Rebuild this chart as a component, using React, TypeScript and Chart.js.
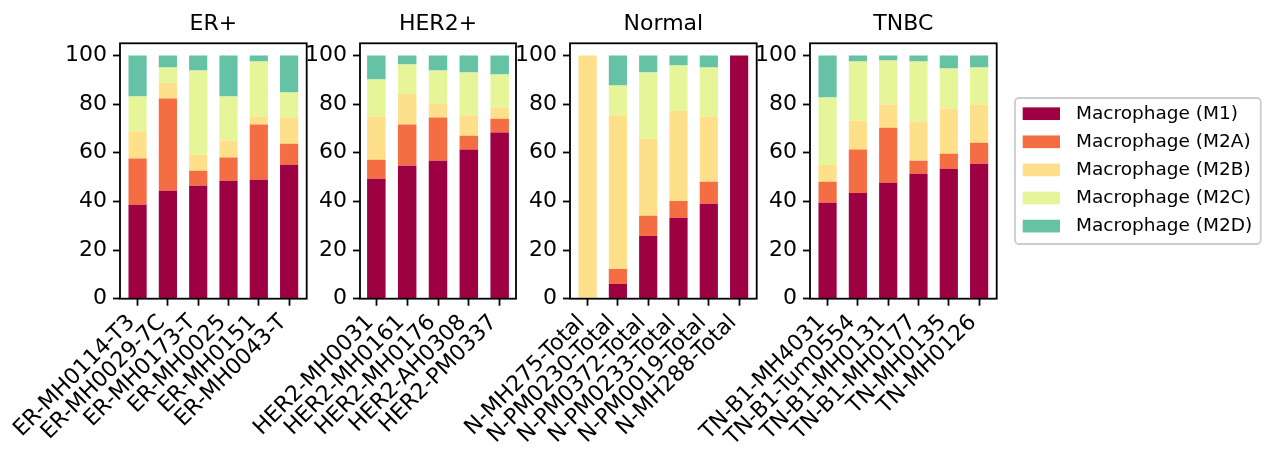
import React, { useEffect, useRef } from "react";
import { Chart, registerables } from "chart.js";

Chart.register(...registerables);
Chart.defaults.font.family = "'DejaVu Sans', sans-serif";

// ---------- data ----------
const SERIES_NAMES = [
  "Macrophage (M1)",
  "Macrophage (M2A)",
  "Macrophage (M2B)",
  "Macrophage (M2C)",
  "Macrophage (M2D)",
];
const SERIES_COLORS = ["#9e0142", "#f46d43", "#fee08b", "#e6f598", "#66c2a5"];
const Y_TICKS = [0, 20, 40, 60, 80, 100];

const ER_LABELS = ["ER-MH0114-T3", "ER-MH0029-7C", "ER-MH0173-T", "ER-MH0025", "ER-MH0151", "ER-MH0043-T"];
const ER_M1 = [38.6, 44.4, 46.4, 48.5, 48.9, 55.1];
const ER_M2A = [19.0, 37.9, 6.2, 9.5, 22.7, 8.6];
const ER_M2B = [11.1, 6.6, 6.6, 7.0, 3.3, 10.8];
const ER_M2C = [14.4, 6.2, 34.6, 18.1, 22.6, 10.3];
const ER_M2D = [16.9, 4.9, 6.2, 16.9, 2.5, 15.2];

const HER2_LABELS = ["HER2-MH0031", "HER2-MH0161", "HER2-MH0176", "HER2-AH0308", "HER2-PM0337"];
const HER2_M1 = [49.3, 54.7, 56.7, 61.3, 68.3];
const HER2_M2A = [7.8, 16.9, 17.8, 5.7, 5.7];
const HER2_M2B = [17.8, 12.7, 5.7, 8.3, 4.6];
const HER2_M2C = [15.2, 12.0, 13.6, 17.7, 13.6];
const HER2_M2D = [9.9, 3.7, 6.2, 7.0, 7.8];

const NORMAL_LABELS = ["N-MH275-Total", "N-PM0230-Total", "N-PM0372-Total", "N-PM0233-Total", "N-PM0019-Total", "N-MH288-Total"];
const NORMAL_M1 = [0, 6.0, 25.8, 33.2, 39.0, 100];
const NORMAL_M2A = [0, 6.2, 8.3, 7.0, 9.1, 0];
const NORMAL_M2B = [100, 63.1, 31.7, 37.1, 26.8, 0];
const NORMAL_M2C = [0, 12.3, 27.2, 18.6, 20.2, 0];
const NORMAL_M2D = [0, 12.4, 7.0, 4.1, 4.9, 0];

const TNBC_LABELS = ["TN-B1-MH4031", "TN-B1-Tum0554", "TN-B1-MH0131", "TN-B1-MH0177", "TN-MH0135", "TN-MH0126"];
const TNBC_M1 = [39.4, 43.5, 47.7, 51.4, 53.4, 55.5];
const TNBC_M2A = [8.7, 17.8, 22.6, 5.3, 6.2, 8.6];
const TNBC_M2B = [7.0, 11.9, 9.5, 16.1, 18.6, 15.7];
const TNBC_M2C = [27.6, 24.3, 18.1, 24.7, 16.4, 15.3];
const TNBC_M2D = [17.3, 2.5, 2.1, 2.5, 5.4, 4.9];

// ---------- layout ----------
const W = 1276;
const H = 459;
const PLOT_TOP = 43.3;
const PLOT_BOTTOM = 298.7;
const Y_AXIS_W = 60;
const X_AXIS_H = H - PLOT_BOTTOM;
const TICK_FONT = 22;
const TITLE_LINE = TICK_FONT * 1.2;
const TITLE_CENTER_Y = 23.8;

type PanelDef = {
  title: string;
  labels: string[];
  series: number[][];
  left: number;
  right: number;
};

const PANELS: PanelDef[] = [
  { title: "ER+", labels: ER_LABELS, series: [ER_M1, ER_M2A, ER_M2B, ER_M2C, ER_M2D], left: 120, right: 306.7 },
  { title: "HER2+", labels: HER2_LABELS, series: [HER2_M1, HER2_M2A, HER2_M2B, HER2_M2C, HER2_M2D], left: 360, right: 516 },
  { title: "Normal", labels: NORMAL_LABELS, series: [NORMAL_M1, NORMAL_M2A, NORMAL_M2B, NORMAL_M2C, NORMAL_M2D], left: 570, right: 756.7 },
  { title: "TNBC", labels: TNBC_LABELS, series: [TNBC_M1, TNBC_M2A, TNBC_M2B, TNBC_M2C, TNBC_M2D], left: 810, right: 996.7 },
];

// legend box geometry
const LEG_BOX = { x: 1015, y: 98, w: 245.7, h: 146, r: 4 };
const LEG_SWATCH = { x: 1022.7, w: 37.3, h: 12.7 };
const LEG_TEXT_X = 1076;
const LEG_ROW0 = 113.7;
const LEG_ROW_STEP = 28.1;
const LEG_FONT = 18.5;

const framePlugin = {
  id: "frame",
  afterDatasetsDraw(chart: any) {
    const { ctx, chartArea: a } = chart;
    ctx.save();
    ctx.strokeStyle = "#000";
    ctx.lineWidth = 1.8;
    ctx.strokeRect(a.left, a.top, a.right - a.left, a.bottom - a.top);
    ctx.restore();
  },
};

const sideLegendPlugin = {
  id: "sideLegend",
  afterDraw(chart: any) {
    const ctx = chart.ctx;
    const { x, y, w, h, r } = LEG_BOX;
    ctx.save();
    ctx.beginPath();
    ctx.moveTo(x + r, y);
    ctx.arcTo(x + w, y, x + w, y + h, r);
    ctx.arcTo(x + w, y + h, x, y + h, r);
    ctx.arcTo(x, y + h, x, y, r);
    ctx.arcTo(x, y, x + w, y, r);
    ctx.closePath();
    ctx.fillStyle = "rgba(255,255,255,0.8)";
    ctx.fill();
    ctx.strokeStyle = "#cccccc";
    ctx.lineWidth = 1.8;
    ctx.stroke();
    ctx.font = `${LEG_FONT}px 'DejaVu Sans', sans-serif`;
    ctx.textAlign = "left";
    ctx.textBaseline = "middle";
    chart.data.datasets.forEach((ds: any, i: number) => {
      const cy = LEG_ROW0 + i * LEG_ROW_STEP;
      ctx.fillStyle = ds.backgroundColor;
      ctx.fillRect(LEG_SWATCH.x, cy - LEG_SWATCH.h / 2, LEG_SWATCH.w, LEG_SWATCH.h);
      ctx.fillStyle = "#000";
      ctx.fillText(ds.label, LEG_TEXT_X, cy);
    });
    ctx.restore();
  },
};

function Panel({ panel, withLegend }: { panel: PanelDef; withLegend: boolean }) {
  const ref = useRef<HTMLCanvasElement>(null);
  useEffect(() => {
    if (!ref.current) return;
    const n = panel.labels.length;
    const margin = 0.05 * (n - 1 + 0.6);
    const chart = new Chart(ref.current, {
      type: "bar",
      data: {
        datasets: panel.series.map((vals, k) => ({
          label: SERIES_NAMES[k],
          data: vals.map((v, i) => ({ x: i, y: v })),
          backgroundColor: SERIES_COLORS[k],
          borderWidth: 0,
          barPercentage: 0.6,
          categoryPercentage: 1,
        })),
      },
      options: {
        responsive: false,
        animation: false,
        events: [],
        layout: {
          padding: {
            left: panel.left - Y_AXIS_W,
            right: W - panel.right,
            top: 0,
            bottom: 0,
          },
        },
        plugins: {
          legend: { display: false },
          tooltip: { enabled: false },
          title: {
            display: true,
            text: panel.title,
            fullSize: false,
            color: "#000",
            font: { size: TICK_FONT, weight: "normal" },
            padding: {
              top: TITLE_CENTER_Y - TITLE_LINE / 2,
              bottom: PLOT_TOP - (TITLE_CENTER_Y + TITLE_LINE / 2),
            },
          },
        },
        scales: {
          x: {
            type: "linear",
            stacked: true,
            offset: false,
            min: -0.3 - margin,
            max: n - 1 + 0.3 + margin,
            afterBuildTicks: (ax: any) => {
              ax.ticks = panel.labels.map((_, i) => ({ value: i }));
            },
            afterFit: (ax: any) => {
              ax.height = X_AXIS_H;
              ax.paddingLeft = 0;
              ax.paddingRight = 0;
            },
            ticks: {
              autoSkip: false,
              minRotation: 45,
              maxRotation: 45,
              color: "#000",
              font: { size: TICK_FONT },
              padding: 4,
              labelOffset: -6,
              callback: (v: any) => panel.labels[v as number],
            },
            grid: {
              offset: false,
              drawOnChartArea: false,
              drawTicks: true,
              tickLength: 7,
              tickWidth: 1.8,
              tickColor: "#000",
            },
            border: { display: false },
          },
          y: {
            type: "linear",
            stacked: true,
            min: 0,
            max: 105,
            afterBuildTicks: (ax: any) => {
              ax.ticks = Y_TICKS.map((v) => ({ value: v }));
            },
            afterFit: (ax: any) => {
              ax.width = Y_AXIS_W;
              ax.paddingTop = 0;
              ax.paddingBottom = 0;
            },
            ticks: {
              color: "#000",
              font: { size: TICK_FONT },
              padding: 6,
            },
            grid: {
              drawOnChartArea: false,
              drawTicks: true,
              tickLength: 7,
              tickWidth: 1.8,
              tickColor: "#000",
            },
            border: { display: false },
          },
        },
      } as any,
      plugins: withLegend ? [framePlugin, sideLegendPlugin] : [framePlugin],
    });
    return () => chart.destroy();
  }, [panel, withLegend]);
  return (
    <canvas
      ref={ref}
      width={W}
      height={H}
      style={{ position: "absolute", left: 0, top: 0, width: W, height: H }}
    />
  );
}

export default function App() {
  return (
    <div
      style={{
        position: "absolute",
        left: 0,
        top: 0,
        width: W,
        height: H,
        background: "#fff",
        overflow: "hidden",
      }}
    >
      {PANELS.map((p, i) => (
        <Panel key={p.title} panel={p} withLegend={i === PANELS.length - 1} />
      ))}
    </div>
  );
}
